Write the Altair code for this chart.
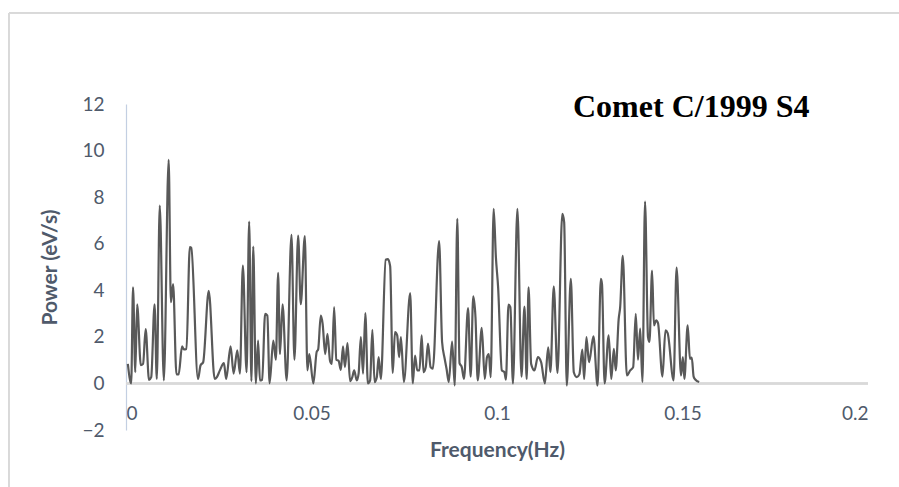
import altair as alt
import pandas as pd

# Frequency (Hz) and power (eV/s)
freq = [0.0005, 0.0014, 0.0019, 0.0025, 0.0030, 0.0040, 0.0046, 0.0053, 0.0062, 0.0068,
        0.0077, 0.0083, 0.0091, 0.0102, 0.0115, 0.0121, 0.0127, 0.0136, 0.0142, 0.0151,
        0.0156, 0.0163, 0.0172, 0.0176, 0.0194, 0.0201, 0.0208, 0.0223, 0.0239, 0.0245,
        0.0253, 0.0264, 0.0270, 0.0282, 0.0290, 0.0300, 0.0307, 0.0315, 0.0325, 0.0332,
        0.0338, 0.0343, 0.0350, 0.0356, 0.0361, 0.0367, 0.0375, 0.0381, 0.0387, 0.0397,
        0.0404, 0.0410, 0.0415, 0.0422, 0.0433, 0.0446, 0.0454, 0.0464, 0.0471, 0.0482,
        0.0489, 0.0494, 0.0505, 0.0514, 0.0518, 0.0525, 0.0530, 0.0537, 0.0543, 0.0550,
        0.0555, 0.0561, 0.0567, 0.0573, 0.0579, 0.0585, 0.0590, 0.0597, 0.0604, 0.0610,
        0.0615, 0.0622, 0.0627, 0.0633, 0.0639, 0.0645, 0.0652, 0.0658, 0.0664, 0.0670,
        0.0676, 0.0681, 0.0687, 0.0700, 0.0706, 0.0712, 0.0719, 0.0725, 0.0731, 0.0736,
        0.0741, 0.0749, 0.0766, 0.0773, 0.0779, 0.0785, 0.0791, 0.0797, 0.0802, 0.0808,
        0.0814, 0.0821, 0.0827, 0.0844, 0.0852, 0.0859, 0.0864, 0.0870, 0.0879, 0.0886,
        0.0893, 0.0899, 0.0905, 0.0911, 0.0922, 0.0929, 0.0936, 0.0942, 0.0948, 0.0959,
        0.0967, 0.0973, 0.0978, 0.0983, 0.0991, 0.0997, 0.1003, 0.1013, 0.1020, 0.1024,
        0.1031, 0.1036, 0.1043, 0.1055, 0.1066, 0.1074, 0.1080, 0.1085, 0.1092, 0.1101,
        0.1110, 0.1119, 0.1129, 0.1138, 0.1144, 0.1153, 0.1163, 0.1176, 0.1181, 0.1188,
        0.1199, 0.1207, 0.1215, 0.1222, 0.1230, 0.1235, 0.1241, 0.1248, 0.1260, 0.1271,
        0.1280, 0.1283, 0.1290, 0.1301, 0.1308, 0.1315, 0.1320, 0.1328, 0.1332, 0.1339,
        0.1350, 0.1359, 0.1367, 0.1374, 0.1380, 0.1386, 0.1392, 0.1399, 0.1407, 0.1411,
        0.1418, 0.1423, 0.1429, 0.1434, 0.1446, 0.1454, 0.1460, 0.1476, 0.1484, 0.1496,
        0.1501, 0.1505, 0.1514, 0.1520, 0.1525, 0.1530, 0.1535, 0.1545]

power = [0.84, 0.00, 4.13, 0.48, 3.40, 0.78, 0.84, 2.33, 0.15, 0.27,
         3.40, 0.19, 7.64, 0.13, 9.60, 3.49, 4.27, 0.39, 0.39, 1.59,
         1.46, 1.48, 5.85, 5.82, 0.19, 0.78, 0.91, 3.98, 0.19, 0.27,
         0.56, 0.87, 0.19, 1.59, 0.42, 1.42, 0.42, 5.06, 0.48, 6.95,
         0.10, 5.88, 0.00, 1.84, 0.13, 0.16, 2.99, 2.91, 0.00, 1.84,
         1.02, 4.75, 1.26, 3.40, 0.13, 6.38, 1.02, 6.35, 3.40, 6.33,
         0.56, 1.26, 0.00, 1.36, 1.46, 2.91, 2.56, 1.26, 2.13, 0.97,
         0.84, 3.28, 1.02, 0.97, 0.58, 1.59, 0.70, 1.73, 0.10, 0.27,
         0.56, 0.13, 0.42, 1.99, 0.42, 3.02, 0.00, 0.13, 2.30, 0.06,
         0.27, 1.13, 0.19, 5.31, 5.34, 5.04, 0.45, 2.20, 2.06, 1.13,
         1.99, 0.06, 3.88, 0.00, 1.20, 0.56, 0.56, 2.06, 0.48, 0.70,
         1.71, 0.70, 0.63, 6.11, 1.78, 1.06, 0.63, 0.06, 1.80, -0.09,
         7.07, 0.87, 0.70, 0.19, 3.23, 0.29, 3.74, 2.84, 0.13, 2.39,
         0.19, 1.13, 1.26, 0.27, 7.50, 5.43, 4.13, 0.56, 0.48, 0.16,
         3.38, 3.28, 0.00, 7.50, 0.29, 3.30, 0.19, 4.13, 0.84, 0.56,
         1.13, 0.91, 0.00, 1.55, 0.48, 4.17, 0.45, 7.28, 6.93, -0.09,
         4.49, 0.48, 0.27, 0.39, 1.45, 0.19, 1.99, 0.91, 2.02, -0.09,
         4.49, 4.27, 0.00, 2.06, 0.19, 1.48, 0.56, 2.77, 3.28, 5.48,
         0.34, 0.56, 0.70, 2.99, 1.02, 2.35, 0.06, 7.81, 1.99, 1.78,
         4.85, 2.49, 2.71, 2.59, 0.29, 2.28, 2.16, 0.13, 4.97, 0.34,
         1.13, 0.19, 2.49, 1.06, 1.11, 0.29, 0.16, 0.06]

x_ticks = [0, 0.05, 0.1, 0.15, 0.2]
y_ticks = [-2, 0, 2, 4, 6, 8, 10, 12]
chart_title = ["Comet C/1999 S4"]

df = pd.DataFrame({"freq": freq, "power": power})
title_df = pd.DataFrame({"label": chart_title})

label_color = "#4f5a6b"
font = "Lato"

x_enc = alt.X(
    "freq:Q",
    scale=alt.Scale(domain=[0, 0.2], nice=False, zero=False),
    axis=alt.Axis(
        values=x_ticks, format="~g", title="Frequency(Hz)",
        grid=False, ticks=False, domain=False, offset=-33,
        labelPadding=7, labelFont=font, labelFontSize=19, labelColor=label_color,
        titleFont=font, titleFontSize=21, titleFontWeight="bold", titleColor=label_color,
        titleY=53, titleBaseline="middle",
    ),
)
y_enc = alt.Y(
    "power:Q",
    scale=alt.Scale(domain=[-2, 12], nice=False, zero=False),
    axis=alt.Axis(
        values=y_ticks, title="Power (eV/s)", grid=False, ticks=False,
        domainColor="#c3cfe2", domainWidth=1.2,
        labelPadding=22, labelFont=font, labelFontSize=19, labelColor=label_color,
        titleFont=font, titleFontSize=21, titleFontWeight="bold", titleColor=label_color,
        titleX=-76, titleY=163, titleAngle=-90, titleAlign="center", titleBaseline="middle",
    ),
)

line = alt.Chart(df).mark_line(
    color="#595959", strokeWidth=2.2, interpolate="monotone"
).encode(x=x_enc, y=y_enc)

zero_rule = alt.Chart(df).mark_rule(color="#d9d9d9", strokeWidth=1.5).encode(
    y=alt.datum(0)
)

frame_top = alt.Chart(df).mark_rule(color="#d9d9d9", strokeWidth=1).encode(
    x=alt.value(-117), x2=alt.value(800), y=alt.value(-91)
)
frame_left = alt.Chart(df).mark_rule(color="#d9d9d9", strokeWidth=1).encode(
    x=alt.value(-117), y=alt.value(-91), y2=alt.value(400)
)

title_text = alt.Chart(title_df).mark_text(
    font="Liberation Serif", fontSize=32, fontWeight="bold", color="black",
    align="left", baseline="alphabetic",
).encode(text="label:N", x=alt.value(447), y=alt.value(13))

chart = alt.layer(frame_top, frame_left, zero_rule, line, title_text).properties(
    width=742,
    height=326,
    padding={"left": 126, "top": 104, "right": 31, "bottom": 57},
    autosize=alt.AutoSizeParams(type="none"),
    background="white",
).configure_view(stroke=None)

chart.save("out.html", embed_options={"renderer": "svg", "actions": False})
